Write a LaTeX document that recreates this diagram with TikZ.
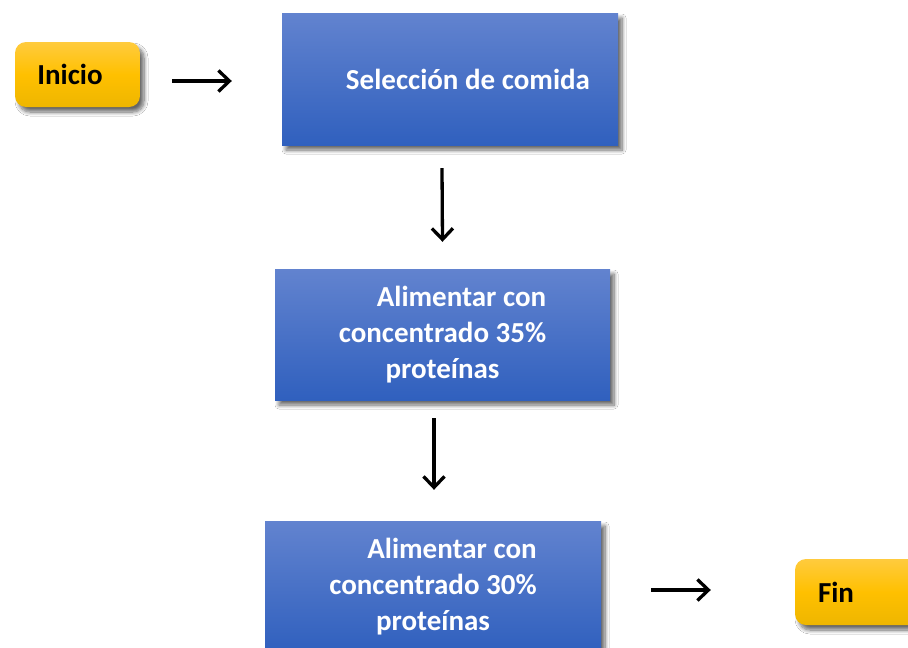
\documentclass[tikz,border=0pt]{standalone}
\usepackage{fontspec}
\setmainfont{Carlito}
\usetikzlibrary{arrows.meta,shadows.blur}
\definecolor{bluetop}{RGB}{98,131,207}
\definecolor{bluebot}{RGB}{48,96,190}
\definecolor{yeltop}{RGB}{255,203,62}
\definecolor{yelbot}{RGB}{238,182,0}
\tikzset{
  stepbox/.style={rectangle, top color=bluetop, bottom color=bluebot, draw=none,
    text=white, font=\fontsize{29}{36}\selectfont\bfseries, align=center,
    inner sep=0pt,
    blur shadow={shadow xshift=4pt, shadow yshift=-5pt, shadow blur radius=4pt, shadow blur steps=8, shadow opacity=60}},
  termbox/.style={rectangle, rounded corners=11pt, top color=yeltop, bottom color=yelbot,
    middle color={rgb,255:red,255;green,192;blue,0}, draw=none,
    text=black, font=\fontsize{29}{36}\selectfont\bfseries, align=center,
    inner sep=0pt, minimum width=125pt, minimum height=65pt,
    blur shadow={shadow xshift=4pt, shadow yshift=-5pt, shadow blur radius=4pt, shadow blur steps=8, shadow opacity=60}},
  arr/.style={line width=3.3pt, -{Straight Barb[length=11pt,width=21pt]}}
}
\begin{document}
\begin{tikzpicture}[x=1pt,y=1pt]
\clip (0,0) rectangle (908,-648);
\fill[white] (0,0) rectangle (908,-648);
\node[termbox] (ini) at (77.5,-74.5) {Inicio\hspace{15pt}};
\node[stepbox, minimum width=336pt, minimum height=132pt] (b1) at (450,-79) {\hspace{36pt}Selección de comida};
\node[stepbox, minimum width=335pt, minimum height=131pt] (b2) at (442.5,-334.5) {\hspace{38pt}Alimentar con\\concentrado 35\%\\proteínas};
\node[stepbox, minimum width=336pt, minimum height=131pt] (b3) at (433,-586.5) {\hspace{38pt}Alimentar con\\concentrado 30\%\\proteínas};
\node[termbox, minimum height=66pt] (fin) at (857.5,-592) {Fin\hspace{43pt}\raisebox{0pt}{}};
\draw[arr] ([xshift=32pt,yshift=-6.5pt]ini.east) -- ([xshift=-50pt,yshift=-2pt]b1.west);
\draw[arr] ([xshift=-8pt,yshift=-23pt]b1.south) -- ([yshift=27pt]b2.north);
\draw[arr] ([xshift=-8.5pt,yshift=-18pt]b2.south) -- ([xshift=1pt,yshift=31pt]b3.north);
\draw[arr] ([xshift=50pt,yshift=-3.5pt]b3.east) -- ([xshift=-84pt,yshift=2pt]fin.west);
\end{tikzpicture}
\end{document}
